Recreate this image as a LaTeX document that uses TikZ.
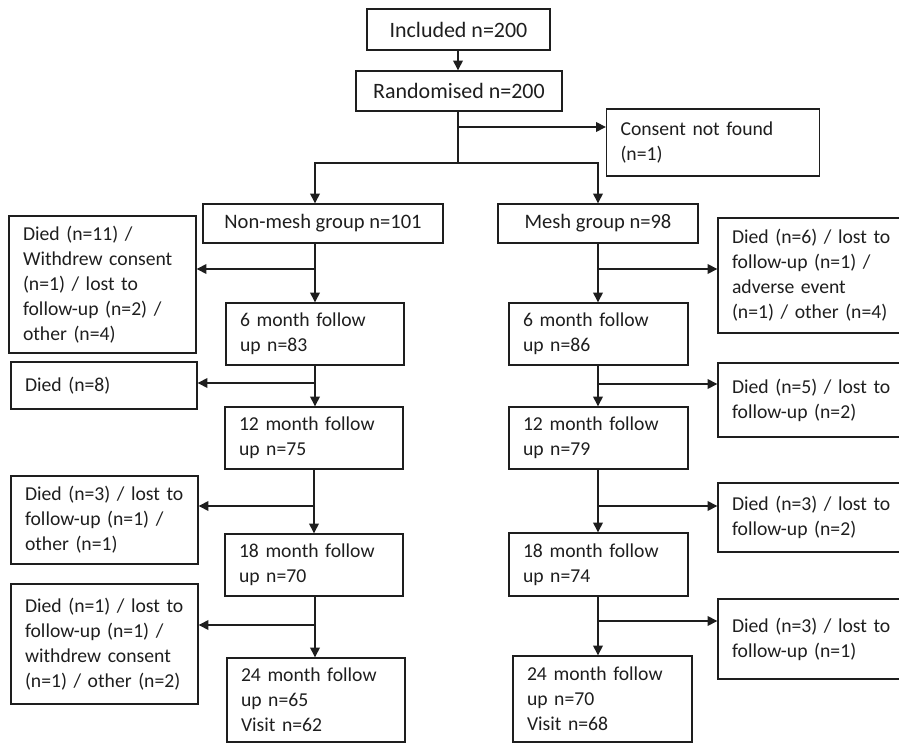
\documentclass[tikz,border=0pt]{standalone}
\usepackage{fontspec}
\setmainfont{Carlito}
\usepackage{tikz}
\usetikzlibrary{arrows.meta, positioning, calc}
\usepackage{xcolor}
\definecolor{InkGrey}{HTML}{1E1E1E}
\newcommand{\bigtext}{\fontsize{12.5}{14.2}\selectfont}
\newcommand{\midtext}{\fontsize{11.7}{14.2}\selectfont}
\newcommand{\boxtext}{\fontsize{11.2}{14.2}\selectfont\hyphenpenalty=10000}
\tikzset{
  % Single-line box, centred text
  titlebox/.style={
    rectangle, draw=InkGrey, line width=0.8pt,
    align=center, inner sep=0pt,
    text=InkGrey, font=\bigtext
  },
  % Multi-line box, left-aligned text
  infobox/.style={
    rectangle, draw=InkGrey, line width=0.8pt,
    align=left, inner xsep=0.28cm, inner ysep=0pt,
    text=InkGrey, font=\boxtext
  },
  % Arrow style
  arrow/.style={
    -{Triangle[length=5.5pt,width=5.5pt]}, line width=0.75pt, draw=InkGrey
  },
  line/.style={line width=0.75pt, draw=InkGrey}
}

\begin{document}
\begin{tikzpicture}[x=0.02cm, y=-0.02cm]
\useasboundingbox (0,0) rectangle (899,743);
\clip (0,0) rectangle (899,743);

% ── top of the flow ─────────────────────────────
\node[titlebox, minimum width=3.66cm, minimum height=0.82cm] (incl)
  at (458.5,29.5) {Included n=200};
\node[titlebox, minimum width=4.12cm, minimum height=0.80cm] (rand)
  at (459,91) {Randomised n=200};
\node[infobox, text width=3.70cm, minimum height=1.34cm] (consent)
  at (713,142.5) {Consent not found\\(n=1)};

\node[titlebox, font=\midtext, minimum width=4.80cm, minimum height=0.78cm] (nonmesh)
  at (323,223.5) {Non-mesh group n=101};
\node[titlebox, font=\midtext, minimum width=4.00cm, minimum height=0.78cm] (mesh)
  at (598,223.5) {Mesh group n=98};

% ── non-mesh arm ─────────────────────────────
\node[infobox, text width=3.00cm, minimum height=1.24cm] (m6L)
  at (315,334) {6 month follow\\up n=83};
\node[infobox, text width=3.00cm, minimum height=1.24cm] (m12L)
  at (314,438) {12 month follow\\up n=75};
\node[infobox, text width=3.00cm, minimum height=1.24cm] (m18L)
  at (314,565) {18 month follow\\up n=70};
\node[infobox, text width=3.00cm, minimum height=1.68cm] (m24L)
  at (316,700) {24 month follow\\up n=65\\Visit n=62};

\node[infobox, text width=3.18cm, minimum height=2.74cm] (exL1)
  at (102.5,284.5) {Died (n=11) /\\Withdrew consent\\(n=1) / lost to\\follow-up (n=2) /\\other (n=4)};
\node[infobox, text width=3.16cm, minimum height=0.94cm] (exL2)
  at (104,385.5) {Died (n=8)};
\node[infobox, text width=3.18cm, minimum height=1.76cm] (exL3)
  at (104.5,520) {Died (n=3) / lost to\\follow-up (n=1) /\\other (n=1)};
\node[infobox, text width=3.18cm, minimum height=2.40cm] (exL4)
  at (104.5,644) {Died (n=1) / lost to\\follow-up (n=1) /\\withdrew consent\\(n=1) / other (n=2)};

% ── mesh arm ─────────────────────────────
\node[infobox, text width=3.02cm, minimum height=1.24cm] (m6R)
  at (598.5,334) {6 month follow\\up n=86};
\node[infobox, text width=3.02cm, minimum height=1.24cm] (m12R)
  at (598.5,438) {12 month follow\\up n=79};
\node[infobox, text width=3.02cm, minimum height=1.26cm] (m18R)
  at (598.5,564.5) {18 month follow\\up n=74};
\node[infobox, text width=3.02cm, minimum height=1.72cm] (m24R)
  at (602.5,699) {24 month follow\\up n=70\\Visit n=68};

\node[infobox, text width=3.18cm, minimum height=2.30cm] (exR1)
  at (811.5,275.5) {Died (n=6) / lost to\\follow-up (n=1) /\\adverse event\\(n=1) / other (n=4)};
\node[infobox, text width=3.18cm, minimum height=1.48cm] (exR2)
  at (811.5,400) {Died (n=5) / lost to\\follow-up (n=2)\\[4pt]};
\node[infobox, text width=3.18cm, minimum height=1.38cm] (exR3)
  at (811.5,517.5) {Died (n=3) / lost to\\follow-up (n=2)};
\node[infobox, text width=3.18cm, minimum height=1.60cm] (exR4)
  at (811.5,639) {Died (n=3) / lost to\\follow-up (n=1)\\[6pt]};

% branch points
\coordinate (split) at (458,163);
\coordinate (b0)  at (458,127);
\coordinate (bL1) at (315,269);
\coordinate (bL2) at (315,383);
\coordinate (bL3) at (315,506);
\coordinate (bL4) at (315,625);
\coordinate (bR1) at (598,269);
\coordinate (bR2) at (598,384);
\coordinate (bR3) at (598,506);
\coordinate (bR4) at (598,621);

\draw[arrow] (incl.south -| split) -- (rand.north -| split);
\draw[line]  (rand.south -| split) -- (split);
\draw[arrow] (b0) -- (b0 -| consent.west);
\draw[arrow] (split) -| (nonmesh.north -| m6L.north);
\draw[arrow] (split) -| (mesh.north);

\draw[arrow] (nonmesh.south -| m6L.north) -- (m6L.north);
\draw[arrow] (m6L.south)  -- (m12L.north -| m6L.south);
\draw[arrow] (m12L.south) -- (m18L.north -| m12L.south);
\draw[arrow] (m18L.south -| bL4) -- (m24L.north -| bL4);
\draw[arrow] (bL1) -- (bL1 -| exL1.east);
\draw[arrow] (bL2) -- (bL2 -| exL2.east);
\draw[arrow] (bL3) -- (bL3 -| exL3.east);
\draw[arrow] (bL4) -- (bL4 -| exL4.east);

\draw[arrow] (mesh.south) -- (m6R.north -| mesh.south);
\draw[arrow] (m6R.south -| bR2)  -- (m12R.north -| bR2);
\draw[arrow] (m12R.south -| bR3) -- (m18R.north -| bR3);
\draw[arrow] (m18R.south -| bR4) -- (m24R.north -| bR4);
\draw[arrow] (bR1) -- (bR1 -| exR1.west);
\draw[arrow] (bR2) -- (bR2 -| exR2.west);
\draw[arrow] (bR3) -- (bR3 -| exR3.west);
\draw[arrow] (bR4) -- (bR4 -| exR4.west);

\end{tikzpicture}
\end{document}
